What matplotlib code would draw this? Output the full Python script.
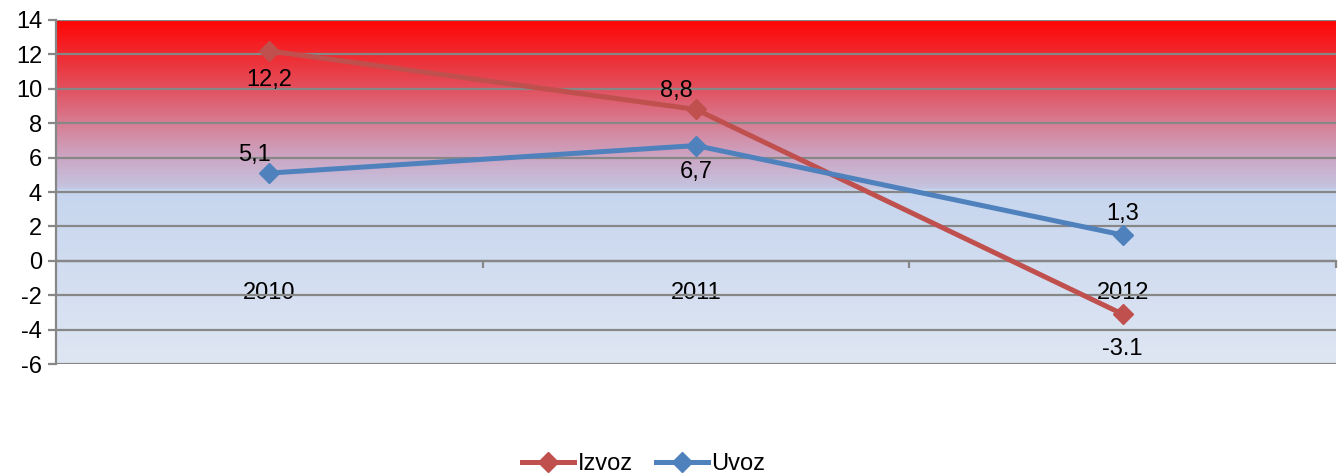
"""
Izvoz / Uvoz growth rate chart, 2010-2012
"""

import numpy as np
import matplotlib.pyplot as plt
from matplotlib.colors import LinearSegmentedColormap

years = ["2010", "2011", "2012"]
izvoz = [12.2, 8.8, -3.1]
uvoz = [5.1, 6.7, 1.5]
izvoz_labels = ["12,2", "8,8", "-3.1"]
uvoz_labels = ["5,1", "6,7", "1,3"]

RED = "#C0504D"
BLUE = "#4F81BD"
GRID = "#878787"
FS = 17

plt.rcParams['font.family'] = ['Liberation Sans', 'DejaVu Sans']
plt.rcParams['axes.unicode_minus'] = False

fig = plt.figure(figsize=(13.41, 4.73), dpi=100)
ax = fig.add_axes([56 / 1341, 1 - 364 / 473, 1280 / 1341, 344 / 473])

ymin, ymax = -6, 14
x = np.arange(len(years)) + 0.5

# background gradient: red fading to lavender above ~4.2, pale blue below
grad = LinearSegmentedColormap.from_list("bg", [
    (0.0, "#dfe6f3"),
    (0.509, "#c6d5ee"),
    (0.51, "#c4c4e0"),
    (0.60, "#cca6c4"),
    (0.70, "#d77d93"),
    (0.80, "#e2505e"),
    (0.90, "#f02a30"),
    (1.0, "#ff0404"),
])
ax.imshow(np.linspace(0, 1, 1000).reshape(-1, 1), cmap=grad, origin='lower',
          extent=[0, 3, ymin, ymax], aspect='auto', zorder=0, interpolation='nearest')

ax.set_xlim(0, 3)
ax.set_ylim(ymin, ymax)
ax.set_yticks(range(ymin, ymax + 1, 2))
ax.yaxis.grid(True, color=GRID, linewidth=1.6, zorder=1)
ax.set_axisbelow(False)

for s in ['top', 'right']:
    ax.spines[s].set_visible(False)
ax.spines['left'].set_color(GRID)
ax.spines['left'].set_linewidth(1.6)
ax.spines['bottom'].set_position(('data', 0))
ax.spines['bottom'].set_color(GRID)
ax.spines['bottom'].set_linewidth(1.6)

ax.set_xticks([1, 2, 3])
ax.set_xticklabels([])
ax.tick_params(axis='x', which='major', length=5, width=1.6, color=GRID, direction='out')
ax.set_xticks(x, minor=True)
ax.set_xticklabels(years, minor=True)
ax.tick_params(axis='x', which='minor', length=0, pad=15, labelsize=FS)
ax.tick_params(axis='y', length=6, width=1.6, color=GRID, labelsize=FS, pad=4)

ax.plot(x, izvoz, color=RED, lw=3.6, marker='D', ms=10, label="Izvoz", zorder=3)
ax.plot(x, uvoz, color=BLUE, lw=3.6, marker='D', ms=10, label="Uvoz", zorder=3)

izvoz_off = [-21, 13, -25]
uvoz_off = [13, -19, 15]
izvoz_dx = [0, -14, 0]
uvoz_dx = [-11, 0, 0]
for i in range(len(years)):
    ax.annotate(izvoz_labels[i], (x[i], izvoz[i]), xytext=(izvoz_dx[i], izvoz_off[i]),
                textcoords='offset points', ha='center', va='center', fontsize=FS)
    ax.annotate(uvoz_labels[i], (x[i], uvoz[i]), xytext=(uvoz_dx[i], uvoz_off[i]),
                textcoords='offset points', ha='center', va='center', fontsize=FS)

fig.legend(loc='lower center', bbox_to_anchor=(0.48, -0.05), ncol=2, frameon=False,
           fontsize=FS, handlelength=2.2, handletextpad=0.15, columnspacing=1.0)

fig.savefig("out.png", dpi=100)
